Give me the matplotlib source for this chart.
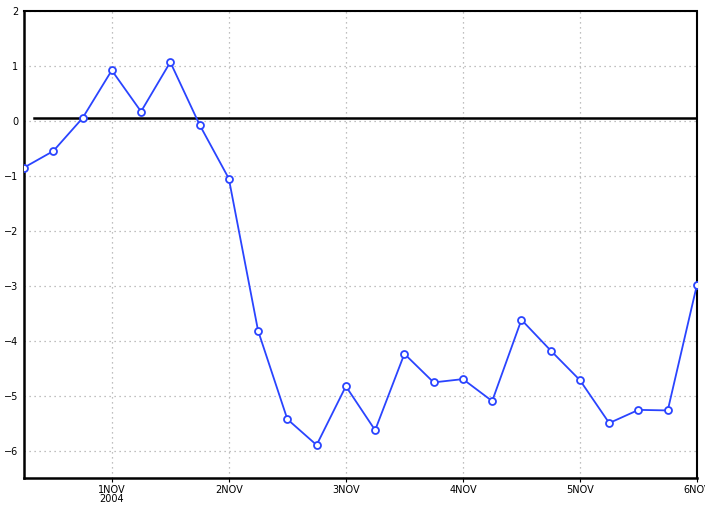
import pandas as pd
import matplotlib.pyplot as plt
import matplotlib.dates as mdates

times = pd.date_range("2004-10-31 06:00", "2004-11-06 00:00", freq="6h")
values = [-0.85, -0.55, 0.05, 0.92, 0.17, 1.07, -0.07, -1.05,
          -3.82, -5.43, -5.90, -4.83, -5.63, -4.24, -4.76, -4.70,
          -5.10, -3.62, -4.18, -4.72, -5.50, -5.26, -5.27, -2.98]

tick_dates = pd.date_range("2004-11-01", "2004-11-06", freq="D")
tick_labels = ["1NOV\n2004", "2NOV", "3NOV", "4NOV", "5NOV", "6NOV"]
y_ticks = [-6, -5, -4, -3, -2, -1, 0, 1, 2]

fig = plt.figure(figsize=(7.05, 5.05), dpi=100)
ax = fig.add_axes([24 / 705, 1 - 478 / 505, 673 / 705, 467 / 505])

ax.plot(times, values, color="#2a44ff", lw=1.3, marker="o", ms=5,
        mfc="white", mec="#2a44ff", mew=1.3, zorder=3)

# reference line
ax.plot([pd.Timestamp("2004-10-31 08:00"), tick_dates[-1]], [0.06, 0.06],
        color="black", lw=1.8, zorder=2)

ax.set_xlim(times[0], times[-1])
ax.set_ylim(-6.5, 2)
ax.set_xticks(tick_dates)
ax.set_xticklabels(tick_labels, fontsize=7, linespacing=0.9)
ax.set_yticks(y_ticks)
ax.set_yticklabels([str(v).replace("-", "\u2212") for v in y_ticks], fontsize=7)
ax.tick_params(axis="x", length=3, pad=2)
ax.tick_params(axis="y", length=0, pad=4)

ax.grid(color="#aaaaaa", linestyle=(0, (1, 3)), lw=0.9)

for side in ["left", "bottom"]:
    ax.spines[side].set_linewidth(1.8)
for side in ["top", "right"]:
    ax.spines[side].set_linewidth(1.5)
    ax.spines[side].set_linestyle((0, (2, 1)))

fig.savefig("out.png", dpi=100)
